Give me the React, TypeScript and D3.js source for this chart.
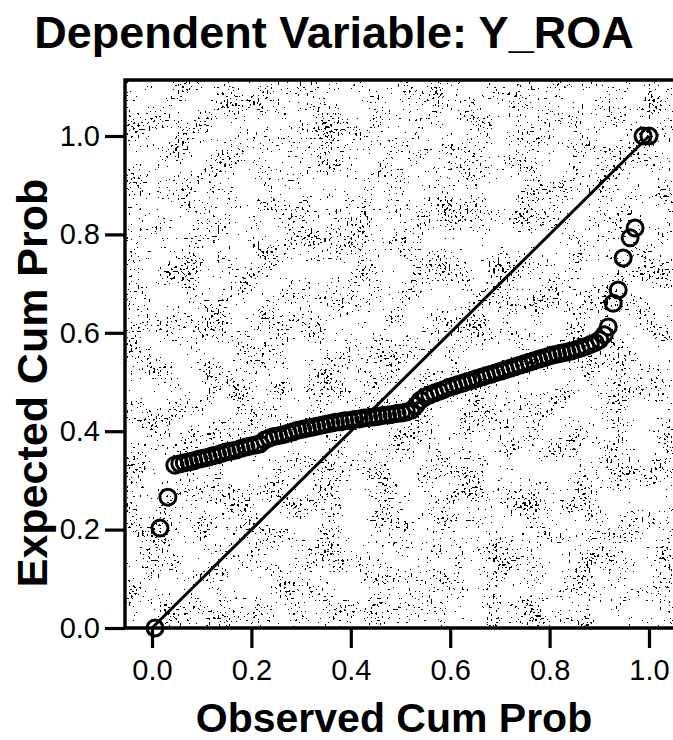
import { useEffect, useRef } from "react";
import * as d3 from "d3";

const TITLE = "Dependent Variable: Y_ROA";
const X_TITLE = "Observed Cum Prob";
const Y_TITLE = "Expected Cum Prob";
const TICKS = [0, 0.2, 0.4, 0.6, 0.8, 1.0];

// observed cumulative probability (x) of each residual
const observed = [
  0.006, 0.016, 0.032,
  0.046, 0.056, 0.065, 0.075, 0.084, 0.094, 0.103, 0.113, 0.122, 0.132,
  0.141, 0.151, 0.16, 0.17, 0.179, 0.189, 0.198, 0.208, 0.217, 0.227,
  0.236, 0.246, 0.255, 0.265, 0.274, 0.284, 0.293, 0.303, 0.312, 0.322,
  0.331, 0.341, 0.35, 0.36, 0.369, 0.379, 0.388, 0.398, 0.407, 0.417,
  0.426, 0.436, 0.445, 0.455, 0.464, 0.474, 0.483, 0.493, 0.502, 0.512,
  0.521, 0.531, 0.54, 0.55, 0.559, 0.569, 0.578, 0.588, 0.597, 0.607,
  0.616, 0.626, 0.635, 0.645, 0.654, 0.664, 0.673, 0.683, 0.692, 0.702,
  0.711, 0.721, 0.73, 0.74, 0.749, 0.759, 0.768, 0.778, 0.787, 0.797,
  0.806, 0.816, 0.825, 0.835, 0.844, 0.854, 0.863, 0.873, 0.882, 0.892,
  0.901, 0.91,
  0.918, 0.928, 0.938, 0.948, 0.962, 0.972, 0.988, 1.0,
];

// expected cumulative probability (y) for the same cases
const expected = [
  0.0, 0.203, 0.266,
  0.331, 0.334, 0.336, 0.338, 0.34, 0.343, 0.345, 0.347, 0.35, 0.352,
  0.355, 0.358, 0.36, 0.362, 0.365, 0.368, 0.37, 0.372, 0.374, 0.382,
  0.386, 0.389, 0.391, 0.393, 0.396, 0.399, 0.402, 0.404, 0.406, 0.408,
  0.41, 0.412, 0.414, 0.416, 0.418, 0.419, 0.421, 0.422, 0.424, 0.425,
  0.427, 0.428, 0.429, 0.43, 0.432, 0.433, 0.434, 0.436, 0.437, 0.439,
  0.442, 0.452, 0.463, 0.47, 0.474, 0.478, 0.481, 0.485, 0.489, 0.492,
  0.495, 0.498, 0.501, 0.504, 0.507, 0.51, 0.513, 0.516, 0.519, 0.522,
  0.525, 0.528, 0.531, 0.534, 0.537, 0.54, 0.543, 0.546, 0.549, 0.552,
  0.555, 0.557, 0.559, 0.561, 0.563, 0.566, 0.569, 0.572, 0.576, 0.58,
  0.586, 0.596,
  0.612, 0.66, 0.687, 0.752, 0.793, 0.813, 1.0, 1.0,
];

const W = 673;
const H = 740;
const FONT = '"Liberation Sans", Arial, Helvetica, sans-serif';
const INK = "#000";

export default function App() {
  const ref = useRef<SVGSVGElement>(null);

  useEffect(() => {
    const el = ref.current;
    if (!el) return;
    const svg = d3.select(el);
    svg.selectAll("*").remove();

    const frame = { left: 125, top: 80, right: 673, bottom: 628 };
    const x = d3.scaleLinear().domain([0, 1]).range([152, 649]);
    const y = d3.scaleLinear().domain([0, 1]).range([628, 136]);

    // scanned-paper stipple for the plot background
    const defs = svg.append("defs");
    const f = defs
      .append("filter")
      .attr("id", "stipple")
      .attr("x", 0)
      .attr("y", 0)
      .attr("width", 1)
      .attr("height", 1)
      .attr("color-interpolation-filters", "sRGB");
    const gray = "1 0 0 0 0  1 0 0 0 0  1 0 0 0 0  0 0 0 0 1";
    f.append("feTurbulence")
      .attr("type", "fractalNoise")
      .attr("baseFrequency", 0.45)
      .attr("numOctaves", 1)
      .attr("seed", 4)
      .attr("result", "fineRaw");
    f.append("feColorMatrix")
      .attr("in", "fineRaw")
      .attr("type", "matrix")
      .attr("values", gray)
      .attr("result", "fine");
    f.append("feTurbulence")
      .attr("type", "fractalNoise")
      .attr("baseFrequency", 0.035)
      .attr("numOctaves", 2)
      .attr("seed", 11)
      .attr("result", "coarseRaw");
    f.append("feColorMatrix")
      .attr("in", "coarseRaw")
      .attr("type", "matrix")
      .attr("values", gray)
      .attr("result", "coarse");
    f.append("feComposite")
      .attr("in", "fine")
      .attr("in2", "coarse")
      .attr("operator", "arithmetic")
      .attr("k1", 0)
      .attr("k2", 1)
      .attr("k3", 0.35)
      .attr("k4", -0.175)
      .attr("result", "mix");
    f.append("feColorMatrix")
      .attr("in", "mix")
      .attr("type", "matrix")
      .attr("values", "0 0 0 0 0  0 0 0 0 0  0 0 0 0 0  1 0 0 0 0")
      .attr("result", "alpha");
    f.append("feComponentTransfer")
      .attr("in", "alpha")
      .append("feFuncA")
      .attr("type", "discrete")
      .attr("tableValues", "0 0 0 0 0 0 0 0 0 0 0 1 1 1 1 1");

    svg.append("rect").attr("width", W).attr("height", H).attr("fill", "#fff");

    svg
      .append("rect")
      .attr("x", frame.left)
      .attr("y", frame.top)
      .attr("width", frame.right - frame.left)
      .attr("height", frame.bottom - frame.top)
      .attr("fill", "#fff")
      .attr("filter", "url(#stipple)");

    // diagonal reference line
    svg
      .append("line")
      .attr("x1", x(0))
      .attr("y1", y(0))
      .attr("x2", x(1))
      .attr("y2", y(1))
      .attr("stroke", INK)
      .attr("stroke-width", 3);

    const pts = observed.map((o, i) => ({ o, e: expected[i] }));
    svg
      .append("g")
      .selectAll("circle")
      .data(pts)
      .join("circle")
      .attr("cx", (d) => x(d.o))
      .attr("cy", (d) => y(d.e))
      .attr("r", 8)
      .attr("fill", "none")
      .attr("stroke", INK)
      .attr("stroke-width", 3);

    // frame (left, top, bottom)
    svg
      .append("path")
      .attr(
        "d",
        `M${frame.right},${frame.top}H${frame.left}V${frame.bottom}H${frame.right}`
      )
      .attr("fill", "none")
      .attr("stroke", INK)
      .attr("stroke-width", 3.4);

    const fmt = d3.format(".1f");

    svg
      .append("g")
      .attr("transform", `translate(${frame.left},0)`)
      .call(d3.axisLeft(y).tickValues(TICKS).tickFormat((d) => fmt(+d)).tickSize(20).tickPadding(5))
      .call((g) => g.select(".domain").remove())
      .call((g) => g.selectAll(".tick line").attr("stroke", INK).attr("stroke-width", 3.2))
      .call((g) =>
        g
          .selectAll("text")
          .attr("fill", INK)
          .attr("font-family", FONT)
          .attr("font-size", 29)
      );

    svg
      .append("g")
      .attr("transform", `translate(0,${frame.bottom})`)
      .call(d3.axisBottom(x).tickValues(TICKS).tickFormat((d) => fmt(+d)).tickSize(20).tickPadding(11))
      .call((g) => g.select(".domain").remove())
      .call((g) => g.selectAll(".tick line").attr("stroke", INK).attr("stroke-width", 3.2))
      .call((g) =>
        g
          .selectAll("text")
          .attr("fill", INK)
          .attr("font-family", FONT)
          .attr("font-size", 29)
      );

    svg
      .append("text")
      .attr("x", 334)
      .attr("y", 48)
      .attr("text-anchor", "middle")
      .attr("font-family", FONT)
      .attr("font-weight", 700)
      .attr("font-size", 45)
      .attr("fill", INK)
      .text(TITLE);

    svg
      .append("text")
      .attr("x", 394)
      .attr("y", 732)
      .attr("text-anchor", "middle")
      .attr("font-family", FONT)
      .attr("font-weight", 700)
      .attr("font-size", 41)
      .attr("fill", INK)
      .text(X_TITLE);

    svg
      .append("text")
      .attr("transform", "translate(47,383) rotate(-90)")
      .attr("text-anchor", "middle")
      .attr("font-family", FONT)
      .attr("font-weight", 700)
      .attr("font-size", 43)
      .attr("fill", INK)
      .text(Y_TITLE);
  }, []);

  return (
    <svg
      ref={ref}
      width={W}
      height={H}
      style={{ position: "absolute", left: 0, top: 0, display: "block" }}
    />
  );
}
